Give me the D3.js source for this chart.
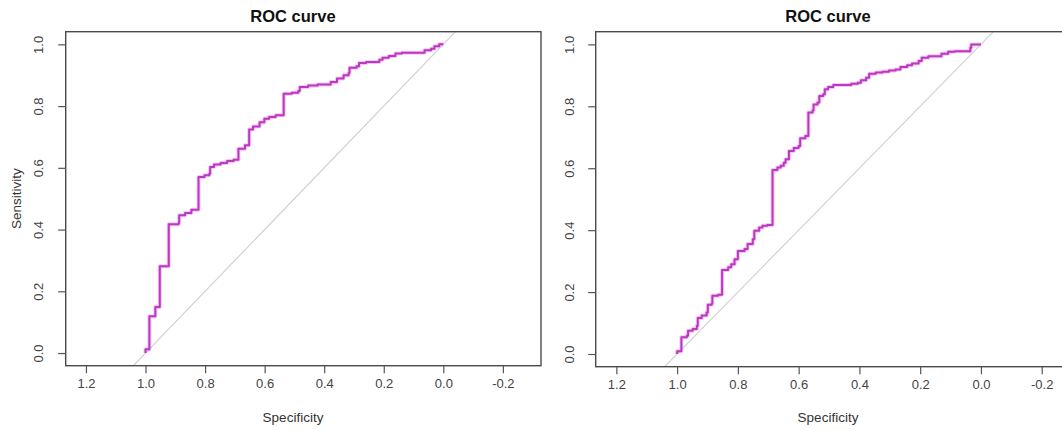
<!DOCTYPE html>
<html>
<head>
<meta charset="utf-8">
<script src="https://cdn.jsdelivr.net/npm/d3@7"></script>
<style>
  html, body { margin: 0; padding: 0; background: #ffffff; }
  svg { display: block; font-family: "Liberation Sans", Arial, sans-serif; }
</style>
</head>
<body>
<svg id="chart" width="1062" height="430"></svg>
<script>
// ---- data ----
const xTicks = [1.2, 1.0, 0.8, 0.6, 0.4, 0.2, 0.0, -0.2];
const yTicks = [0.0, 0.2, 0.4, 0.6, 0.8, 1.0];
const xTickLabels = ["1.2", "1.0", "0.8", "0.6", "0.4", "0.2", "0.0", "-0.2"];
const yTickLabels = ["0.0", "0.2", "0.4", "0.6", "0.8", "1.0"];
const titles = ["ROC curve", "ROC curve"];
const xLabel = "Specificity";
const yLabel = "Sensitivity";

const leftSpec = [1.0, 1.0, 0.987, 0.987, 0.967, 0.967, 0.952, 0.952, 0.922, 0.922, 0.889, 0.887, 0.867, 0.846, 0.822, 0.822,
  0.802, 0.786, 0.783, 0.770, 0.748, 0.726, 0.704, 0.688, 0.688, 0.666, 0.652, 0.652, 0.639, 0.617, 0.601, 0.585, 0.563,
  0.536, 0.536, 0.509, 0.487, 0.482, 0.454, 0.422, 0.389, 0.378, 0.357, 0.335, 0.318, 0.315, 0.291, 0.283, 0.259, 0.226,
  0.215, 0.204, 0.183, 0.161, 0.139, 0.074, 0.063, 0.041, 0.030, 0.014, 0.0];
const leftSens = [0.0, 0.012, 0.017, 0.119, 0.119, 0.149, 0.149, 0.281, 0.281, 0.417, 0.421, 0.446, 0.454, 0.464, 0.478, 0.570,
  0.576, 0.581, 0.603, 0.611, 0.616, 0.622, 0.626, 0.630, 0.662, 0.673, 0.673, 0.724, 0.734, 0.748, 0.759, 0.765, 0.770,
  0.775, 0.840, 0.843, 0.849, 0.862, 0.867, 0.870, 0.870, 0.878, 0.889, 0.900, 0.907, 0.924, 0.929, 0.940, 0.943, 0.943,
  0.950, 0.957, 0.962, 0.970, 0.973, 0.973, 0.981, 0.986, 0.994, 1.0, 1.0];

const rightSpec = [1.0, 1.0, 0.986, 0.986, 0.968, 0.964, 0.949, 0.935, 0.932, 0.919, 0.903, 0.899, 0.886, 0.884, 0.865, 0.852,
  0.852, 0.832, 0.822, 0.811, 0.800, 0.778, 0.768, 0.751, 0.746, 0.730, 0.719, 0.703, 0.686, 0.686, 0.670, 0.659, 0.649,
  0.643, 0.632, 0.616, 0.600, 0.595, 0.578, 0.568, 0.568, 0.554, 0.551, 0.538, 0.532, 0.519, 0.514, 0.503, 0.486, 0.443,
  0.427, 0.405, 0.395, 0.378, 0.368, 0.346, 0.324, 0.303, 0.281, 0.265, 0.243, 0.227, 0.205, 0.195, 0.173, 0.141, 0.130,
  0.108, 0.086, 0.043, 0.035, 0.032, 0.0];
const rightSens = [0.0, 0.009, 0.013, 0.054, 0.059, 0.075, 0.081, 0.091, 0.116, 0.124, 0.134, 0.159, 0.163, 0.188, 0.191, 0.191,
  0.271, 0.280, 0.290, 0.306, 0.333, 0.339, 0.355, 0.371, 0.398, 0.409, 0.414, 0.417, 0.425, 0.594, 0.602, 0.608, 0.618,
  0.629, 0.656, 0.665, 0.672, 0.697, 0.704, 0.710, 0.780, 0.787, 0.806, 0.812, 0.833, 0.839, 0.855, 0.862, 0.869, 0.869,
  0.873, 0.876, 0.884, 0.892, 0.905, 0.909, 0.912, 0.916, 0.919, 0.927, 0.933, 0.938, 0.946, 0.957, 0.962, 0.962, 0.970,
  0.976, 0.978, 0.978, 0.989, 1.0, 1.0];

// ---- layout ----
const panels = [
  { x0: 65.7, x1: 541, y0: 31.7, y1: 365.7, cx: 293, spec: leftSpec, sens: leftSens, title: titles[0], showY: true },
  { x0: 595.7, x1: 1080.6, y0: 31.7, y1: 366.7, cx: 828, spec: rightSpec, sens: rightSens, title: titles[1], showY: false }
];
const xDomain = [1.268, -0.328];
const yDomain = [-0.041, 1.041];

const svg = d3.select("#chart");

panels.forEach((p, i) => {
  const x = d3.scaleLinear().domain(xDomain).range([p.x0, p.x1]);
  const y = d3.scaleLinear().domain(yDomain).range([p.y1, p.y0]);
  const g = svg.append("g");

  const clipId = "clip" + i;
  g.append("clipPath").attr("id", clipId).append("rect")
    .attr("x", p.x0).attr("y", p.y0).attr("width", p.x1 - p.x0).attr("height", p.y1 - p.y0);

  const inner = g.append("g").attr("clip-path", `url(#${clipId})`);

  // diagonal reference line sens = 1 - spec
  inner.append("line")
    .attr("x1", x(1 - yDomain[0])).attr("y1", y(yDomain[0]))
    .attr("x2", x(1 - yDomain[1])).attr("y2", y(yDomain[1]))
    .attr("stroke", "#cfcfcf").attr("stroke-width", 1.1);

  const pts = p.spec.map((s, k) => [s, p.sens[k]]);
  const line = d3.line().x(d => x(d[0])).y(d => y(d[1])).curve(d3.curveStepAfter);

  inner.append("path").attr("d", line(pts))
    .attr("fill", "none").attr("stroke", "#f07af0").attr("stroke-width", 4)
    .attr("stroke-opacity", 0.45).attr("stroke-linejoin", "round");
  inner.append("path").attr("d", line(pts))
    .attr("fill", "none").attr("stroke", "#b83bbf").attr("stroke-width", 2)
    .attr("stroke-linejoin", "round");

  // box
  g.append("rect").attr("x", p.x0).attr("y", p.y0)
    .attr("width", p.x1 - p.x0).attr("height", p.y1 - p.y0)
    .attr("fill", "none").attr("stroke", "#4a4a4a").attr("stroke-width", 1.4);

  // x axis
  const xAxis = d3.axisBottom(x).tickValues(xTicks)
    .tickFormat((d, k) => xTickLabels[k]).tickSizeOuter(0).tickSize(7.5).tickPadding(6);
  const xa = g.append("g").attr("transform", `translate(0,${p.y1})`).call(xAxis);
  xa.select(".domain").remove();
  xa.selectAll(".tick line").attr("stroke", "#555").attr("stroke-width", 1.2);
  xa.selectAll(".tick text").attr("fill", "#444").attr("font-size", 13)
    .attr("font-family", "Liberation Sans, Arial, sans-serif");

  // y axis
  const yAxis = d3.axisLeft(y).tickValues(yTicks)
    .tickFormat((d, k) => yTickLabels[k]).tickSizeOuter(0).tickSize(7.5);
  const ya = g.append("g").attr("transform", `translate(${p.x0},0)`).call(yAxis);
  ya.select(".domain").remove();
  ya.selectAll(".tick line").attr("stroke", "#555").attr("stroke-width", 1.2);
  ya.selectAll(".tick text")
    .attr("fill", "#444").attr("font-size", 13)
    .attr("font-family", "Liberation Sans, Arial, sans-serif")
    .attr("x", null).attr("dy", null)
    .attr("text-anchor", "middle").attr("dominant-baseline", "central")
    .attr("transform", "translate(-26.7,0) rotate(-90)");

  // title
  g.append("text").attr("x", p.cx).attr("y", 22)
    .attr("text-anchor", "middle").attr("font-weight", "bold").attr("font-size", 16.5)
    .attr("fill", "#111").text(p.title);

  // x label
  g.append("text").attr("x", p.cx).attr("y", 422)
    .attr("text-anchor", "middle").attr("font-size", 13.5).attr("fill", "#333").text(xLabel);

  if (p.showY) {
    g.append("text")
      .attr("transform", `translate(16,${(p.y0 + p.y1) / 2}) rotate(-90)`)
      .attr("text-anchor", "middle").attr("dominant-baseline", "central")
      .attr("font-size", 13.5).attr("fill", "#333").text(yLabel);
  }
});
</script>
</body>
</html>
